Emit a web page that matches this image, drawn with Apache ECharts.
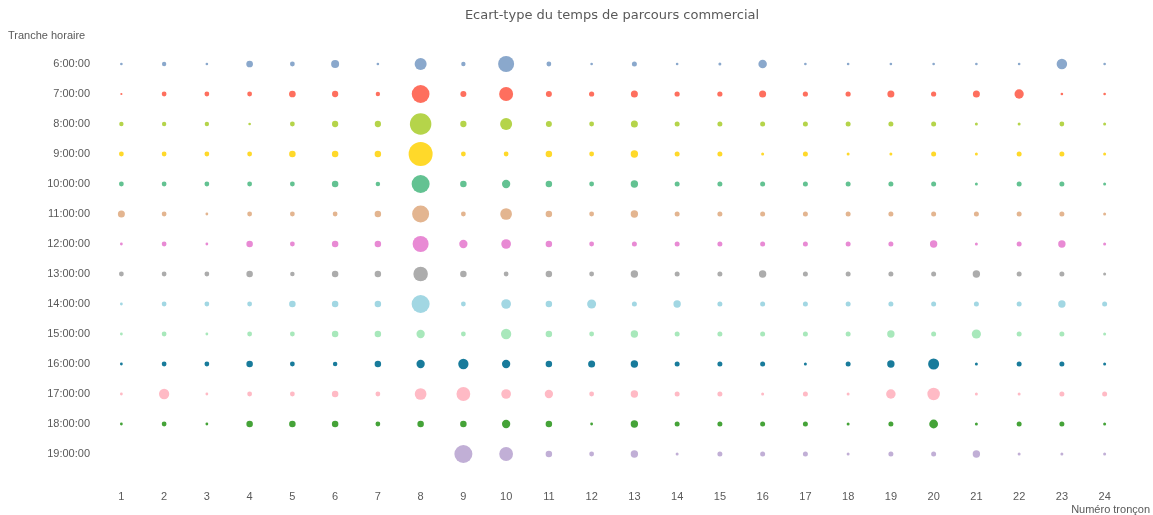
<!DOCTYPE html>
<html>
<head>
<meta charset="utf-8">
<script src="https://cdn.jsdelivr.net/npm/echarts@6/dist/echarts.min.js"></script>
<style>html,body{margin:0;padding:0;background:#fff}#c{width:1153px;height:515px}</style>
</head>
<body>
<div id="c"></div>
<script>
const troncons = ['1','2','3','4','5','6','7','8','9','10','11','12','13','14','15','16','17','18','19','20','21','22','23','24'];
const tranches = ['6:00:00','7:00:00','8:00:00','9:00:00','10:00:00','11:00:00','12:00:00','13:00:00','14:00:00','15:00:00','16:00:00','17:00:00','18:00:00','19:00:00'];
const colors = ['#8aa8cc','#fe6f5e','#b5d44a','#ffd92a','#63c292','#e3b590','#e88ad4','#acacac','#a2d7e3','#a8e8bb','#187b9b','#ffbac5','#45a338','#c1afd6'];
// Ecart-type per tranche horaire (rows) and numéro tronçon (columns)
const h06 = [2.6,4.4,2.6,6.7,4.8,8,2.6,12,4.4,16,4.8,2.6,5,2.6,3,8.5,2.6,2.6,2.6,2.6,2.6,2.6,10.5,2.6];
const h07 = [2.2,4.8,4.8,4.8,6.7,6.3,4.4,17.8,6,14,6,5.2,7,5.2,5.2,7,5.2,5.2,7,5.2,7,9.3,2.6,2.6];
const h08 = [4.4,4.4,4.4,2.6,4.8,6.3,6.3,21.5,6.3,12,6,4.8,7,5,5,5,5,5,5,5,3,3,4.8,3];
const h09 = [4.8,4.8,4.8,4.8,6.5,6.5,6.5,24,4.8,4.8,6.5,4.8,7.4,5,5,3,5,3,3,5,3,5,5,3];
const h10 = [4.8,4.8,4.8,4.8,4.8,6.5,4.5,18,6.5,8.3,6.5,4.8,7.4,5,5,5,5,5,5,5,3,5,5,3];
const h11 = [7,4.8,2.8,4.8,4.8,4.8,6.5,17,4.8,11.7,6.5,4.8,7.4,5,5,5,5,5,5,5,5,5,5,3];
const h12 = [2.8,4.8,2.8,6.5,4.8,6.5,6.5,16,8.3,9.7,6.5,4.8,5,5,5,5,5,5,5,7.4,3,5,7.4,3];
const h13 = [4.8,4.8,4.8,6.5,4.5,6.5,6.5,14.5,6.5,4.8,6.5,4.8,7.4,5,5,7.4,5,5,5,5,7.4,5,5,3];
const h14 = [2.8,4.8,4.8,4.8,6.5,6.5,6.5,18,4.8,9.7,6.5,9,5,7.4,5,5,5,5,5,5,5,5,7.4,5];
const h15 = [2.8,4.8,2.8,4.8,4.8,6.5,6.5,8.3,4.8,10.3,6.5,4.8,7.4,5,5,5,5,5,7.4,5,9.2,5,5,3];
const h16 = [2.8,4.8,4.8,6.5,4.8,4.5,6.5,8.3,10.3,8.3,6.5,7,7.4,5,5,5,3,5,7.4,11,3,5,5,3];
const h17 = [2.8,10.3,2.8,4.8,4.8,6.5,4.8,11.7,13.8,9.7,8.3,4.8,7.4,5,5,3,5,3,9.5,12.5,3,3,5,5];
const h18 = [2.8,4.8,2.8,6.5,6.5,6.5,4.8,6.5,6.5,8.3,6.5,2.8,7.4,5,5,5,5,3,5,8.8,3,5,5,3];
const h19 = [null,null,null,null,null,null,null,null,18,13.8,6.5,4.8,7.4,3,5,5,5,3,5,5,7.4,3,3,3];
const rows = [h06,h07,h08,h09,h10,h11,h12,h13,h14,h15,h16,h17,h18,h19];

const series = rows.map((vals, r) => ({
  type: 'scatter',
  name: tranches[r],
  data: vals.map((v, c) => [troncons[c], tranches[r], v]).filter(d => d[2] != null),
  symbolSize: d => (d && d[2]) || 0,
  itemStyle: { color: colors[r], opacity: 1 },
  emphasis: { disabled: true },
  silent: true
}));

const chart = echarts.init(document.getElementById('c'));
chart.setOption({
  animation: false,
  title: {
    text: 'Ecart-type du temps de parcours commercial',
    left: 607, top: 4, textAlign: 'center',
    textStyle: { fontFamily: 'DejaVu Sans', fontSize: 13, fontWeight: 'normal', color: '#595959' }
  },
  grid: { left: 100, right: 27, top: 49, bottom: 45 },
  xAxis: {
    type: 'category', data: troncons, boundaryGap: true,
    name: 'Numéro tronçon', nameLocation: 'end',
    nameGap: 24,
    nameTextStyle: { fontFamily: 'Liberation Sans', fontSize: 11, color: '#595959', align: 'right', verticalAlign: 'top', padding: [35, 0, 0, 0] },
    axisLine: { show: false }, axisTick: { show: false }, splitLine: { show: false },
    axisLabel: { margin: 22, fontFamily: 'Liberation Sans', fontSize: 11, color: '#595959' }
  },
  yAxis: {
    type: 'category', data: tranches, inverse: true, boundaryGap: true,
    name: 'Tranche horaire', nameLocation: 'start', nameGap: 8,
    nameTextStyle: { fontFamily: 'Liberation Sans', fontSize: 11, color: '#595959', align: 'left', padding: [0, 0, 0, -92] },
    axisLine: { show: false }, axisTick: { show: false }, splitLine: { show: false },
    axisLabel: { margin: 10, fontFamily: 'Liberation Sans', fontSize: 11, color: '#595959' }
  },
  series: series
});
</script>
</body>
</html>
